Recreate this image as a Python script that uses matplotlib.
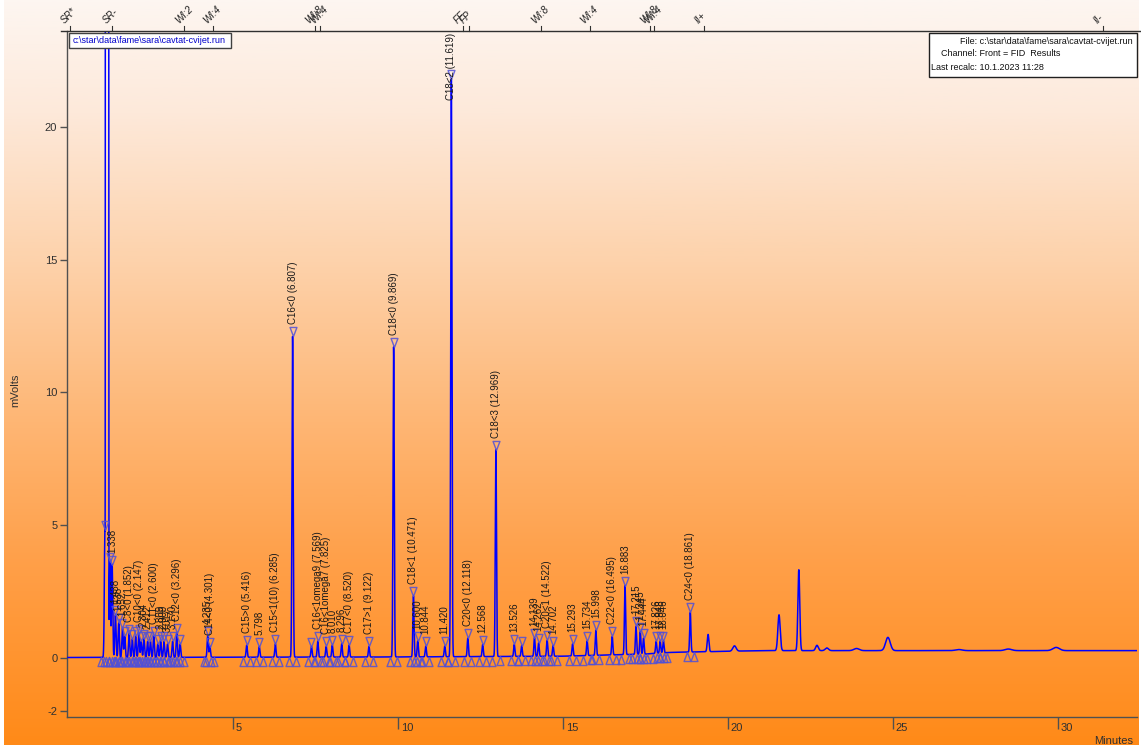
import numpy as np
import matplotlib
matplotlib.use("Agg")
import matplotlib.pyplot as plt
from matplotlib.colors import LinearSegmentedColormap
from matplotlib.transforms import ScaledTranslation, blended_transform_factory
from matplotlib.markers import MarkerStyle
from matplotlib.path import Path
from matplotlib.lines import Line2D
from matplotlib.patches import Rectangle

plt.rcParams['font.family'] = ['Liberation Sans', 'DejaVu Sans']

# ---------------- data ----------------
# integrated + labelled peaks: retention time (min), height above baseline (mV)
lab_times = [1.338, 1.438, 1.538, 1.652, 1.852, 2.147, 2.304, 2.412, 2.600, 2.809, 2.909, 3.017, 3.170, 3.296,
             4.235, 4.301, 5.416, 5.798, 6.285, 6.807, 7.569, 7.825, 8.010, 8.296, 8.520, 9.122,
             9.869, 10.471, 10.600, 10.844, 11.420, 11.619, 12.118, 12.568, 12.969, 13.526,
             14.139, 14.262, 14.522, 14.702, 15.293, 15.734, 15.998, 16.495, 16.883,
             17.215, 17.345, 17.444, 17.826, 17.948, 18.046, 18.861]
lab_heights = [3.5, 1.6, 1.3, 1.1, 0.9, 0.9, 0.7, 0.6, 0.8, 0.6, 0.6, 0.5, 0.6, 0.9,
               0.8, 0.4, 0.45, 0.4, 0.5, 12.1, 0.6, 0.4, 0.45, 0.5, 0.45, 0.4,
               11.7, 2.3, 0.6, 0.4, 0.4, 21.8, 0.7, 0.45, 7.8, 0.45,
               0.7, 0.5, 0.6, 0.4, 0.45, 0.55, 0.95, 0.7, 2.6,
               1.05, 0.85, 0.6, 0.45, 0.45, 0.45, 1.5]
lab_texts = ["1.338", "1.438", "1.538", "1.652", "C8<0 (1.852)", "C10<0 (2.147)", "2.304", "2.412",
             "C11<0 (2.600)", "2.809", "2.909", "3.017", "3.170", "C12<0 (3.296)",
             "4.235", "C14<0 (4.301)", "C15>0 (5.416)", "5.798", "C15<1(10) (6.285)", "C16<0 (6.807)",
             "C16<1omega9 (7.569)", "C16<1omega7 (7.825)", "8.010", "8.296", "C17<0 (8.520)", "C17>1 (9.122)",
             "C18<0 (9.869)", "C18<1 (10.471)", "10.600", "10.844", "11.420", "C18<2 (11.619)",
             "C20<0 (12.118)", "12.568", "C18<3 (12.969)", "13.526",
             "14.139", "14.262", "C20<1 (14.522)", "14.702", "15.293", "15.734", "15.998", "C22<0 (16.495)", "16.883",
             "17.215", "17.345", "17.444", "17.826", "17.948", "18.046", "C24<0 (18.861)"]

# integrated but unlabelled peaks
mark_times = [1.12, 1.27, 1.72, 1.95, 2.05, 2.22, 2.50, 2.72, 3.40, 7.38, 13.75]
mark_heights = [4.8, 3.6, 0.8, 0.7, 0.8, 0.6, 0.6, 0.5, 0.5, 0.4, 0.4]

# solvent front (off scale)
solvent_time = [1.14, 1.155, 1.17, 1.185, 1.20, 1.215, 1.23]
solvent_height = [300.0, 400.0, 350.0, 300.0, 250.0, 150.0, 80.0]

# later, non-integrated peaks
late_times = [19.40, 20.20, 21.55, 22.15, 22.70, 23.00, 23.90, 24.85, 27.00, 28.50, 29.95]
late_heights = [0.65, 0.2, 1.35, 3.05, 0.2, 0.1, 0.08, 0.5, 0.04, 0.06, 0.12]
late_widths = [0.025, 0.05, 0.035, 0.028, 0.04, 0.05, 0.08, 0.07, 0.1, 0.1, 0.1]

# baseline drift
base_t = [0.0, 10.0, 15.0, 17.5, 18.2, 21.0, 32.5]
base_v = [0.0, 0.02, 0.05, 0.13, 0.19, 0.26, 0.26]

# time events on top axis
event_names = ["SR*", "SR-", "WI:2", "WI:4", "WI:8", "WI:4", "FF", "FP", "WI:8", "WI:4", "WI:8", "WI:4", "II+", "II-"]
event_times = [0.06, 1.33, 3.52, 4.39, 7.48, 7.64, 11.97, 12.15, 14.33, 15.82, 17.64, 17.76, 19.27, 31.36]

x_ticks = [5, 10, 15, 20, 25, 30]
y_ticks = [-2, 0, 5, 10, 15, 20]

# ---------------- figure ----------------
W, H = 1141, 749
fig = plt.figure(figsize=(W / 100, H / 100), dpi=100)
fig.patch.set_facecolor('white')


def fx(px):
    return px / W


def fy(py):
    return 1 - py / H


bg = fig.add_axes([fx(4), fy(745), fx(1139) - fx(4), fy(0) - fy(745)])
bg.set_axis_off()
stops = [(0.0, '#fdf6f1'), (0.15, '#fde9da'), (0.35, '#fdd2ab'), (0.55, '#feb878'),
         (0.75, '#ffa04a'), (1.0, '#ff8a18')]
cmap = LinearSegmentedColormap.from_list('g', stops)
bg.imshow(np.linspace(0, 1, 512).reshape(-1, 1), aspect='auto', cmap=cmap, extent=[0, 1, 1, 0])
bg.set_zorder(-10)

ax = fig.add_axes([fx(67), fy(717), fx(1137) - fx(67), fy(31) - fy(717)])
ax.patch.set_alpha(0)
ax.set_xlim(-0.03, 32.4)
ax.set_ylim(-2.245, 23.64)
for s in ['top', 'right']:
    ax.spines[s].set_visible(False)
for s in ['left', 'bottom']:
    ax.spines[s].set_color('#505050')
    ax.spines[s].set_linewidth(1.0)

# trace
t = np.linspace(0, 32.4, 60000)
y = np.interp(t, base_t, base_v)
for tp, hp in zip(lab_times + mark_times, lab_heights + mark_heights):
    y += hp * np.exp(-0.5 * ((t - tp) / 0.018) ** 2)
for tp, hp in zip(solvent_time, solvent_height):
    y += hp * np.exp(-0.5 * ((t - tp) / 0.004) ** 2)
for tp, hp, wp in zip(late_times, late_heights, late_widths):
    y += hp * np.exp(-0.5 * ((t - tp) / wp) ** 2)
ax.plot(t, y, color='#0000ff', lw=1.1, zorder=3)

# markers
down_tri = MarkerStyle(Path([(0, 0), (-0.38, 1), (0.38, 1), (0, 0)], [1, 2, 2, 79]))
up_tri = MarkerStyle(Path([(0, 0), (-0.38, -1), (0.38, -1), (0, 0)], [1, 2, 2, 79]))
all_mt = np.array(lab_times + mark_times)
all_mh = np.array(lab_heights + mark_heights)
apex = all_mh + np.interp(all_mt, base_t, base_v)
mcol = '#5050d8'
ax.plot(all_mt, apex, ls='none', marker=down_tri, ms=13, mfc='none', mec=mcol, mew=1.0, alpha=0.85, zorder=4)
edges = np.concatenate([all_mt - 0.11, all_mt + 0.11, np.array(solvent_time[:1]) - 0.06])
ax.plot(edges, np.interp(edges, base_t, base_v), ls='none', marker=up_tri, ms=13, mfc='none', mec=mcol,
        mew=1.0, alpha=0.85, zorder=4)

# peak labels
off = ScaledTranslation(0, 12 / 100, fig.dpi_scale_trans)
top_tr = blended_transform_factory(ax.transData, ax.transAxes)
for tp, hp, txt in zip(lab_times, lab_heights, lab_texts):
    a = hp + np.interp(tp, base_t, base_v)
    if a > 20:
        ax.text(tp, 1.0, txt, transform=top_tr + ScaledTranslation(0, -2 / 100, fig.dpi_scale_trans),
                rotation=90, ha='center', va='top', fontsize=7, color='#1a1a1a', zorder=5)
    else:
        ax.text(tp, a, txt, transform=ax.transData + off, rotation=90, ha='center', va='bottom',
                fontsize=7, color='#1a1a1a', zorder=5)

# axes ticks
ax.set_xticks(x_ticks)
ax.set_xticklabels([])
ax.tick_params(axis='x', direction='out', length=8.5, width=1, color='#505050')
xlab_tr = ax.get_xaxis_transform() + ScaledTranslation(3 / 100, -11 / 100, fig.dpi_scale_trans)
for xt in x_ticks:
    ax.text(xt, 0, str(xt), transform=xlab_tr, ha='left', va='center', fontsize=8, color='#303030')
ax.set_yticks(y_ticks)
ax.set_yticklabels([str(v) for v in y_ticks], fontsize=8, color='#303030')
ax.tick_params(axis='y', direction='out', length=5, width=1, color='#505050', pad=2)

fig.text(fx(15), fy(390), 'mVolts', rotation=90, ha='center', va='center', fontsize=8, color='#303030')
fig.text(fx(1133), fy(741), 'Minutes', ha='right', va='center', fontsize=8, color='#303030')

# top line and events
fig.add_artist(Line2D([fx(61), fx(1141)], [fy(31), fy(31)], color='#303030', lw=1.0))
for name, et in zip(event_names, event_times):
    ax.add_line(Line2D([et, et], [1.0, 1.0 + 5 / 686], transform=top_tr, color='#303030', lw=0.8,
                       clip_on=False))
    ax.text(et, 1.0, name, transform=top_tr + ScaledTranslation(-4 / 100, 6 / 100, fig.dpi_scale_trans),
            rotation=45, rotation_mode='anchor', ha='left', va='bottom', fontsize=7, color='#202020',
            style='italic', clip_on=False)

# header boxes
fig.add_artist(Rectangle((fx(69), fy(48)), fx(231) - fx(69), fy(33) - fy(48), transform=fig.transFigure,
                         facecolor='white', edgecolor='#404040', lw=1.0, zorder=6))
fig.text(fx(73), fy(40.5), r'c:\star\data\fame\sara\cavtat-cvijet.run', ha='left', va='center',
         fontsize=6.5, color='#0000cc', zorder=7)
fig.add_artist(Rectangle((fx(929), fy(77)), fx(1137) - fx(929), fy(33) - fy(77), transform=fig.transFigure,
                         facecolor='white', edgecolor='#202020', lw=1.0, zorder=6))
fig.text(fx(1133), fy(41), r'File: c:\star\data\fame\sara\cavtat-cvijet.run', ha='right', va='center',
         fontsize=6.5, color='#101010', zorder=7)
fig.text(fx(941), fy(54), 'Channel: Front = FID  Results', ha='left', va='center',
         fontsize=6.5, color='#101010', zorder=7)
fig.text(fx(931), fy(67), 'Last recalc: 10.1.2023 11:28', ha='left', va='center',
         fontsize=6.5, color='#101010', zorder=7)

fig.savefig('out.png', dpi=100)
